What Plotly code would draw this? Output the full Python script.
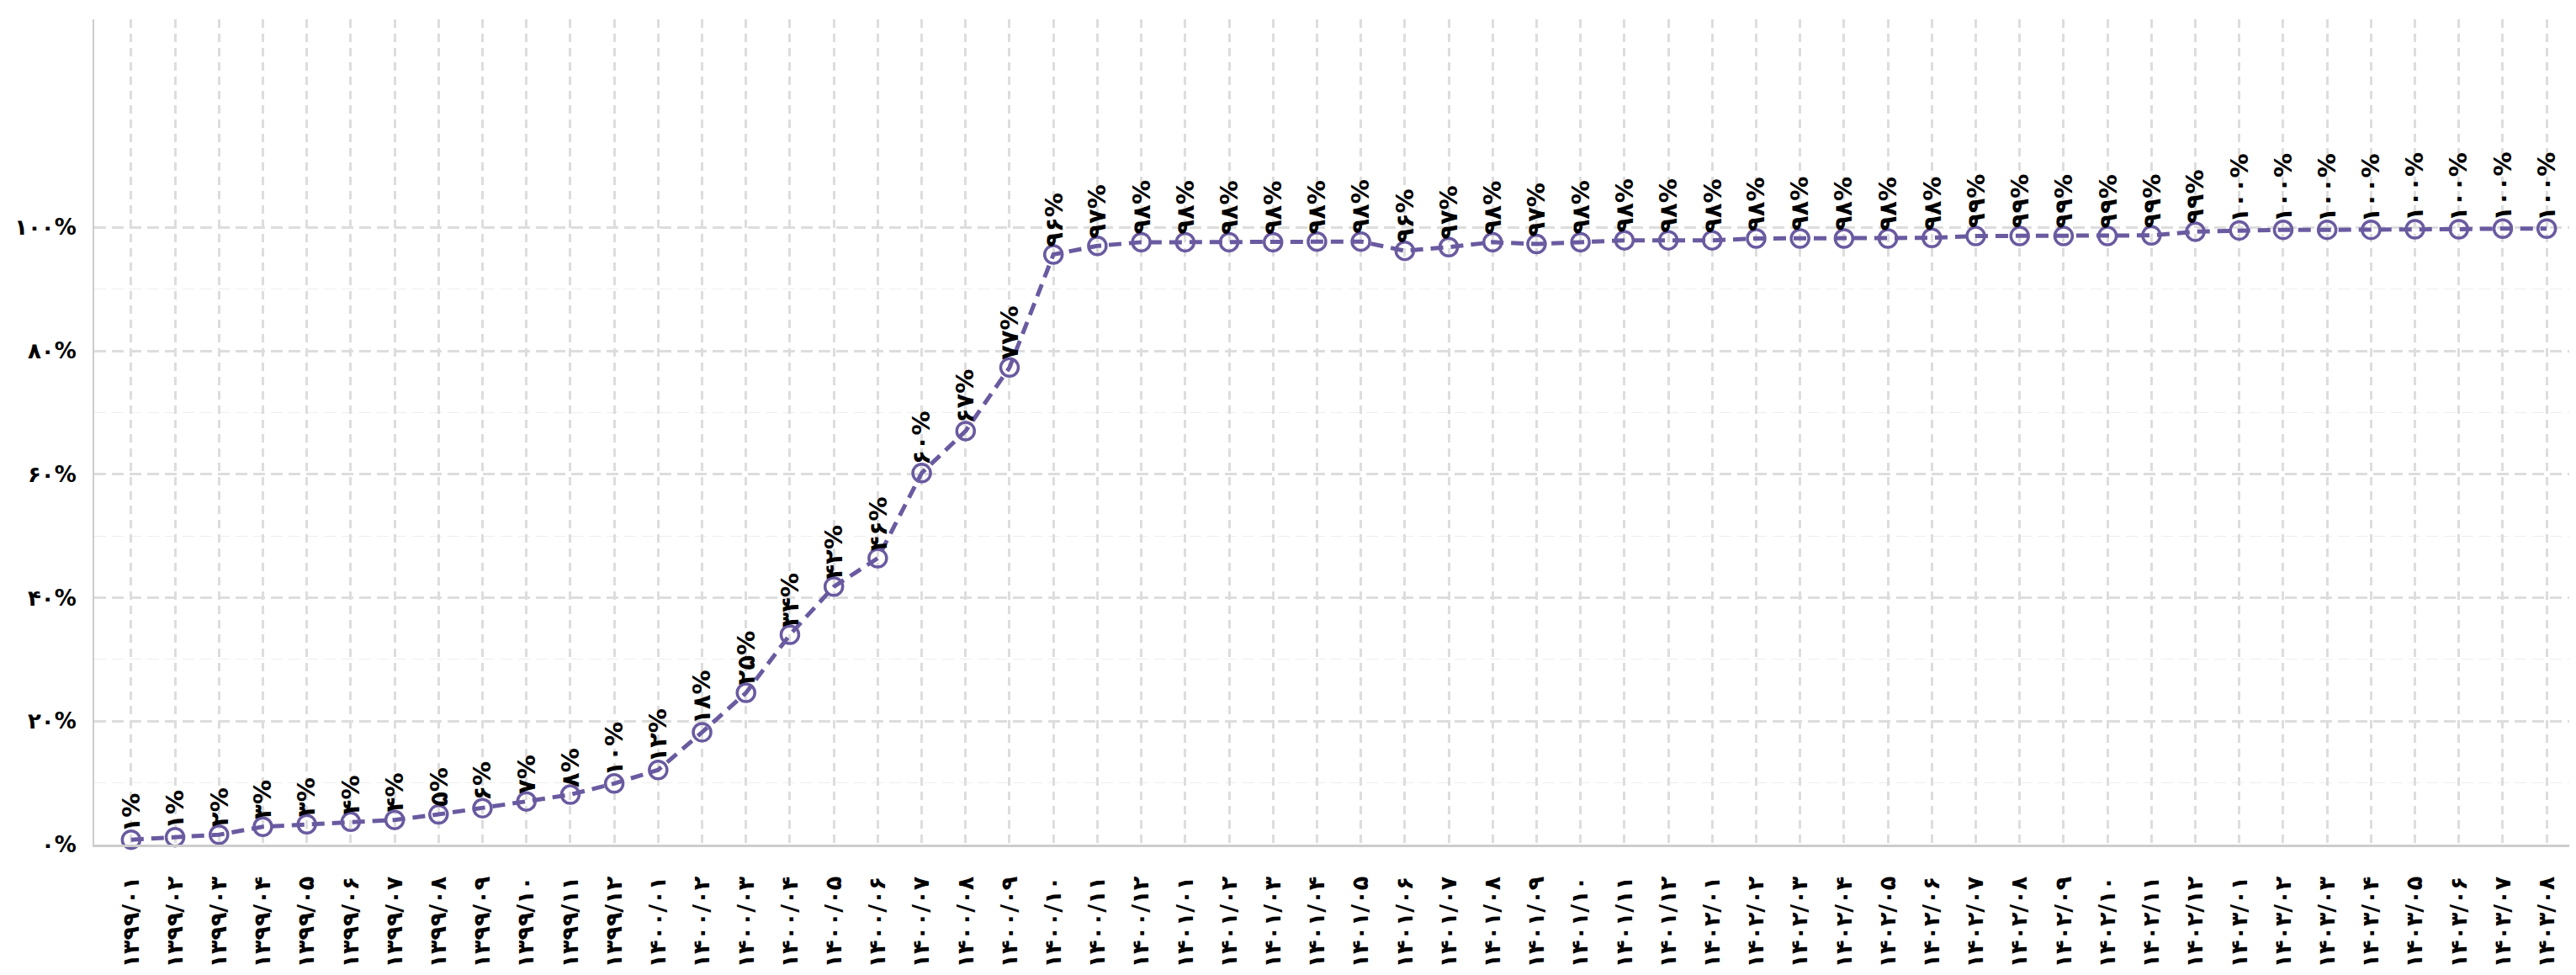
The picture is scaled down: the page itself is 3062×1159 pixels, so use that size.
import plotly.graph_objects as go

P = str.maketrans("0123456789", "۰۱۲۳۴۵۶۷۸۹")

categories = [
    "۱۳۹۹/۰۱", "۱۳۹۹/۰۲", "۱۳۹۹/۰۳", "۱۳۹۹/۰۴", "۱۳۹۹/۰۵", "۱۳۹۹/۰۶",
    "۱۳۹۹/۰۷", "۱۳۹۹/۰۸", "۱۳۹۹/۰۹", "۱۳۹۹/۱۰", "۱۳۹۹/۱۱", "۱۳۹۹/۱۲",
    "۱۴۰۰/۰۱", "۱۴۰۰/۰۲", "۱۴۰۰/۰۳", "۱۴۰۰/۰۴", "۱۴۰۰/۰۵", "۱۴۰۰/۰۶",
    "۱۴۰۰/۰۷", "۱۴۰۰/۰۸", "۱۴۰۰/۰۹", "۱۴۰۰/۱۰", "۱۴۰۰/۱۱", "۱۴۰۰/۱۲",
    "۱۴۰۱/۰۱", "۱۴۰۱/۰۲", "۱۴۰۱/۰۳", "۱۴۰۱/۰۴", "۱۴۰۱/۰۵", "۱۴۰۱/۰۶",
    "۱۴۰۱/۰۷", "۱۴۰۱/۰۸", "۱۴۰۱/۰۹", "۱۴۰۱/۱۰", "۱۴۰۱/۱۱", "۱۴۰۱/۱۲",
    "۱۴۰۲/۰۱", "۱۴۰۲/۰۲", "۱۴۰۲/۰۳", "۱۴۰۲/۰۴", "۱۴۰۲/۰۵", "۱۴۰۲/۰۶",
    "۱۴۰۲/۰۷", "۱۴۰۲/۰۸", "۱۴۰۲/۰۹", "۱۴۰۲/۱۰", "۱۴۰۲/۱۱", "۱۴۰۲/۱۲",
    "۱۴۰۳/۰۱", "۱۴۰۳/۰۲", "۱۴۰۳/۰۳", "۱۴۰۳/۰۴", "۱۴۰۳/۰۵", "۱۴۰۳/۰۶",
    "۱۴۰۳/۰۷", "۱۴۰۳/۰۸",
]

values = [
    0.8, 1.2, 1.6, 2.9, 3.3, 3.7, 4.0, 4.9, 5.9, 7.0, 8.1, 9.9,
    12.1, 18.2, 24.6, 34.0, 41.8, 46.4, 60.2, 67.0, 77.3, 95.6, 97.0, 97.6,
    97.6, 97.6, 97.6, 97.7, 97.7, 96.2, 96.8, 97.6, 97.3, 97.6, 97.9, 97.9,
    97.9, 98.2, 98.2, 98.2, 98.2, 98.3, 98.6, 98.6, 98.6, 98.6, 98.7, 99.3,
    99.5, 99.6, 99.6, 99.6, 99.7, 99.7, 99.8, 99.8,
]

y_tickvals = [0, 20, 40, 60, 80, 100]
y_ticktext = ["۰%", "۲۰%", "۴۰%", "۶۰%", "۸۰%", "۱۰۰%"]
y_minorvals = [10, 30, 50, 70, 90]

labels = [(str(int(round(v))) + "%").translate(P) for v in values]

FONT = "DejaVu Sans"
LINE_COLOR = "rgb(106,90,160)"
GRID = "#dddddd"

fig = go.Figure()
fig.add_trace(go.Scatter(
    x=categories, y=values, mode="lines+markers",
    line=dict(color=LINE_COLOR, width=5, dash="15px,9px"),
    marker=dict(symbol="circle-open", size=21, color=LINE_COLOR,
                line=dict(color=LINE_COLOR, width=3.5)),
    showlegend=False, cliponaxis=False,
))

for c, v, t in zip(categories, values, labels):
    fig.add_annotation(
        x=c, y=v, text="<b>%s</b>" % t, textangle=-90, showarrow=False,
        xanchor="center", yanchor="bottom", yshift=7,
        font=dict(family=FONT, size=29, color="black"),
    )

fig.update_layout(
    width=3062, height=1159,
    margin=dict(l=104, r=0, t=15, b=163),
    paper_bgcolor="white", plot_bgcolor="white",
    font=dict(family=FONT, size=26, color="black"),
)
fig.update_xaxes(
    type="category", range=[-0.84, 55.82],
    tickvals=categories, ticktext=["<b>%s</b>" % c for c in categories],
    tickangle=-90, tickfont=dict(family=FONT, size=27, color="black"),
    showgrid=True, gridcolor=GRID, gridwidth=3, griddash="10px,7px",
    showline=True, linecolor="#cccccc", linewidth=3,
    ticks="outside", ticklen=24, tickcolor="rgba(0,0,0,0)",
    automargin=False, zeroline=False,
)
fig.update_yaxes(
    range=[0, 133.7], tickvals=y_tickvals, ticktext=["<b>%s</b>" % t for t in y_ticktext],
    tickfont=dict(family=FONT, size=26, color="black"),
    showgrid=True, gridcolor=GRID, gridwidth=3, griddash="14px,7px",
    minor=dict(tickvals=y_minorvals, showgrid=True, gridcolor="#eeeeee", gridwidth=1),
    showline=True, linecolor="#cccccc", linewidth=2,
    ticks="outside", ticklen=14, tickcolor="rgba(0,0,0,0)",
    automargin=False, zeroline=False,
)

fig.write_html("out.html")
